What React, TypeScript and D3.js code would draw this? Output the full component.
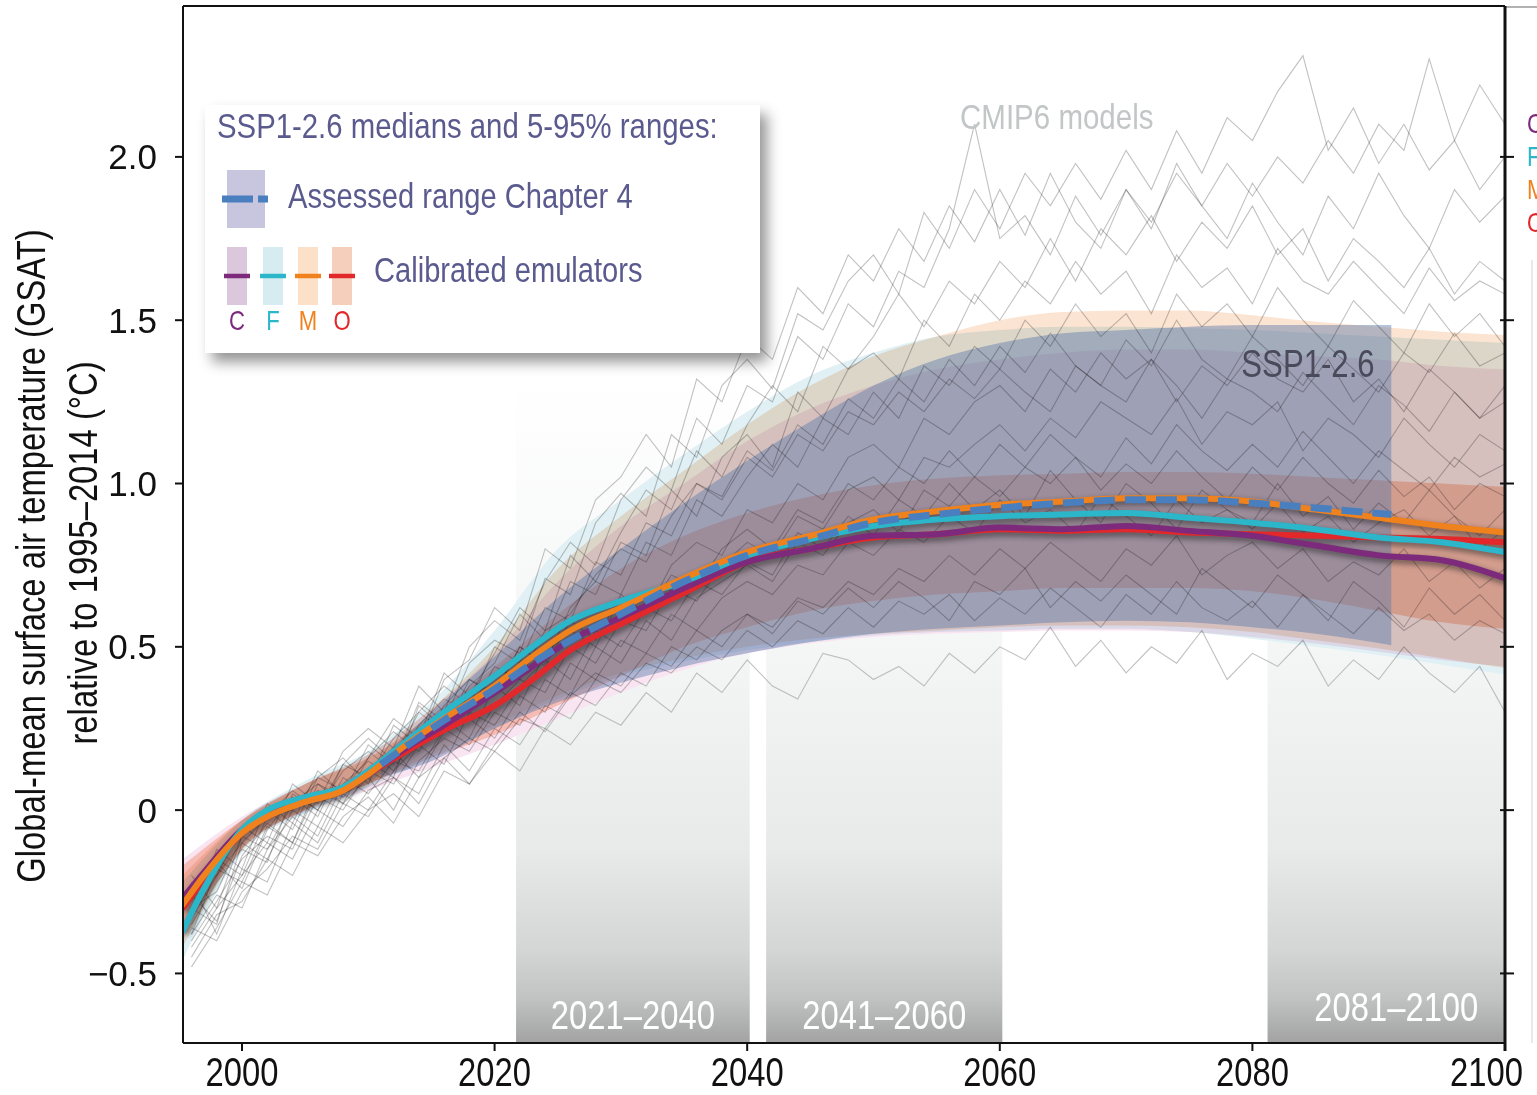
import React from 'react';
import * as d3 from 'd3';

// Canvas and plot frame
const W = 1537;
const H = 1095;
const plot = { left: 183, right: 1505, top: 6, bottom: 1043 };

const SANS = "'Liberation Sans', Arial, sans-serif";
const NARROW_SCALE = 0.82; // condensed look made from Liberation Sans

// Axes
const xTicks = [2000, 2020, 2040, 2060, 2080, 2100];
const yTicks = [-0.5, 0, 0.5, 1.0, 1.5, 2.0];
const yTickLabels = ['−0.5', '0', '0.5', '1.0', '1.5', '2.0'];

// Emulator medians (C, F, M, O)
const medianYears = [1995.3, 1997, 2000, 2002, 2005, 2008, 2010, 2013, 2016, 2020, 2023, 2026, 2030, 2035, 2040, 2045, 2050, 2055, 2060, 2065, 2070, 2075, 2080, 2085, 2090, 2095, 2100];
const medianC = [-0.27, -0.19, -0.06, -0.01, 0.03, 0.06, 0.11, 0.19, 0.26, 0.36, 0.44, 0.52, 0.59, 0.68, 0.76, 0.8, 0.84, 0.845, 0.865, 0.86, 0.87, 0.855, 0.84, 0.81, 0.78, 0.765, 0.71];
const medianF = [-0.37, -0.24, -0.06, 0.0, 0.04, 0.07, 0.12, 0.21, 0.3, 0.41, 0.5, 0.58, 0.64, 0.7, 0.78, 0.83, 0.87, 0.89, 0.9, 0.905, 0.91, 0.895, 0.88, 0.86, 0.835, 0.82, 0.79];
const medianM = [-0.29, -0.2, -0.07, -0.02, 0.025, 0.06, 0.11, 0.2, 0.28, 0.38, 0.47, 0.55, 0.62, 0.71, 0.79, 0.84, 0.89, 0.915, 0.935, 0.945, 0.955, 0.955, 0.945, 0.92, 0.895, 0.87, 0.85];
const medianO = [-0.3, -0.21, -0.07, -0.02, 0.03, 0.06, 0.11, 0.18, 0.245, 0.32, 0.4, 0.49, 0.57, 0.665, 0.76, 0.8, 0.835, 0.845, 0.86, 0.855, 0.86, 0.85, 0.845, 0.84, 0.835, 0.83, 0.82];

// Emulator 5-95% ranges
const bandYears = [1995.3, 2000, 2005, 2010, 2015, 2020, 2025, 2030, 2035, 2040, 2045, 2050, 2055, 2060, 2065, 2070, 2075, 2080, 2085, 2090, 2095, 2100];
const bandFHi = [-0.22, -0.03, 0.09, 0.18, 0.33, 0.55, 0.8, 0.95, 1.09, 1.22, 1.33, 1.4, 1.45, 1.47, 1.48, 1.48, 1.475, 1.47, 1.46, 1.45, 1.44, 1.43];
const bandFLo = [-0.46, -0.13, -0.01, 0.07, 0.16, 0.25, 0.34, 0.41, 0.455, 0.49, 0.515, 0.535, 0.545, 0.55, 0.555, 0.555, 0.545, 0.525, 0.5, 0.475, 0.445, 0.415];
const bandMHi = [-0.2, -0.03, 0.08, 0.17, 0.31, 0.5, 0.74, 0.9, 1.04, 1.18, 1.3, 1.39, 1.45, 1.5, 1.525, 1.53, 1.53, 1.515, 1.495, 1.48, 1.465, 1.455];
const bandMLo = [-0.42, -0.12, 0.0, 0.08, 0.17, 0.26, 0.35, 0.42, 0.465, 0.5, 0.525, 0.54, 0.55, 0.56, 0.565, 0.565, 0.56, 0.545, 0.52, 0.495, 0.465, 0.435];
const bandCHi = [-0.15, -0.02, 0.08, 0.17, 0.31, 0.48, 0.7, 0.87, 1.0, 1.13, 1.23, 1.3, 1.35, 1.38, 1.4, 1.41, 1.41, 1.4, 1.39, 1.38, 1.36, 1.35];
const bandCLo = [-0.4, -0.12, -0.005, 0.06, 0.13, 0.2, 0.28, 0.36, 0.43, 0.48, 0.51, 0.53, 0.54, 0.545, 0.55, 0.55, 0.545, 0.53, 0.51, 0.485, 0.46, 0.44];
const bandOHi = [-0.17, -0.03, 0.08, 0.16, 0.29, 0.44, 0.6, 0.74, 0.84, 0.91, 0.96, 0.995, 1.015, 1.025, 1.03, 1.035, 1.035, 1.03, 1.02, 1.01, 1.0, 0.99];
const bandOLo = [-0.38, -0.12, 0.0, 0.08, 0.16, 0.23, 0.32, 0.41, 0.5, 0.56, 0.61, 0.64, 0.66, 0.67, 0.68, 0.68, 0.68, 0.67, 0.645, 0.61, 0.575, 0.555];

// Assessed range Chapter 4
const assessedYears = [2011, 2015, 2020, 2025, 2030, 2035, 2040, 2045, 2050, 2055, 2060, 2065, 2070, 2075, 2080, 2085, 2091];
const assessedHi = [0.16, 0.3, 0.47, 0.65, 0.8, 0.94, 1.07, 1.19, 1.3, 1.38, 1.43, 1.46, 1.47, 1.48, 1.485, 1.485, 1.485];
const assessedLo = [0.1, 0.15, 0.25, 0.33, 0.39, 0.44, 0.48, 0.515, 0.54, 0.555, 0.565, 0.575, 0.58, 0.575, 0.56, 0.54, 0.505];
const assessedMedYears = [2011, 2013, 2016, 2020, 2023, 2026, 2030, 2035, 2040, 2045, 2050, 2055, 2060, 2065, 2070, 2075, 2080, 2085, 2091];
const assessedMedian = [0.14, 0.195, 0.275, 0.37, 0.45, 0.52, 0.6, 0.7, 0.78, 0.83, 0.88, 0.905, 0.925, 0.94, 0.95, 0.95, 0.94, 0.925, 0.905];

// CMIP6 models, every second year 1996-2100
const cmipYears = d3.range(1996, 2101, 2);
const cmip1 = [-0.32, -0.12, -0.18, 0.02, -0.04, 0.12, 0.05, 0.2, 0.14, 0.33, 0.27, 0.45, 0.52, 0.48, 0.71, 0.66, 0.88, 0.97, 0.9, 1.15, 1.08, 1.3, 1.38, 1.29, 1.52, 1.47, 1.62, 1.7, 1.58, 1.83, 1.72, 1.9, 1.78, 1.95, 1.85, 1.98, 1.87, 2.02, 1.9, 2.08, 1.95, 2.12, 2.05, 2.2, 2.31, 2.02, 2.15, 1.98, 2.1, 1.96, 2.05, 1.9, 2.0];
const cmip2 = [-0.25, -0.2, -0.05, -0.1, 0.08, 0.02, 0.18, 0.25, 0.19, 0.38, 0.3, 0.5, 0.58, 0.52, 0.7, 0.82, 0.75, 0.95, 1.05, 0.98, 1.2, 1.12, 1.3, 1.25, 1.45, 1.38, 1.55, 1.48, 1.65, 1.6, 1.78, 2.1, 1.75, 1.82, 1.7, 1.88, 1.76, 1.9, 1.8, 1.95, 1.85, 1.98, 1.88, 2.0, 1.92, 2.05, 1.95, 2.1, 2.02, 2.3, 2.05, 2.22, 2.1];
const cmip3 = [-0.28, -0.15, -0.2, -0.02, 0.0, 0.1, 0.06, 0.16, 0.28, 0.22, 0.42, 0.35, 0.48, 0.62, 0.55, 0.78, 0.7, 0.85, 0.98, 0.92, 1.1, 1.02, 1.18, 1.3, 1.22, 1.42, 1.35, 1.45, 1.58, 1.48, 1.62, 1.55, 1.68, 1.6, 1.75, 1.62, 1.78, 1.7, 1.82, 1.68, 1.8, 1.72, 1.85, 1.7, 1.78, 1.62, 1.75, 1.68, 1.6, 1.72, 1.58, 1.68, 1.62];
const cmip4 = [-0.35, -0.22, -0.12, -0.16, 0.05, 0.0, 0.14, 0.1, 0.22, 0.3, 0.24, 0.4, 0.35, 0.5, 0.45, 0.62, 0.7, 0.66, 0.82, 0.78, 0.95, 0.9, 1.02, 1.12, 1.05, 1.2, 1.15, 1.28, 1.2, 1.36, 1.3, 1.42, 1.35, 1.5, 1.42, 1.55, 1.45, 1.52, 1.4, 1.58, 1.48, 1.55, 1.45, 1.6, 1.5, 1.42, 1.56, 1.48, 1.4, 1.55, 1.45, 1.52, 1.42];
const cmip5 = [-0.4, -0.28, -0.15, -0.08, -0.12, 0.04, 0.0, 0.12, 0.08, 0.2, 0.28, 0.22, 0.38, 0.32, 0.48, 0.55, 0.5, 0.65, 0.6, 0.75, 0.82, 0.78, 0.92, 0.88, 1.0, 0.95, 1.08, 1.12, 1.05, 1.2, 1.15, 1.25, 1.3, 1.22, 1.35, 1.28, 1.4, 1.32, 1.38, 1.25, 1.36, 1.3, 1.4, 1.32, 1.28, 1.38, 1.25, 1.32, 1.22, 1.35, 1.28, 1.2, 1.3];
const cmip6 = [-0.3, -0.35, -0.1, -0.15, 0.0, -0.05, 0.1, 0.05, 0.15, 0.12, 0.25, 0.2, 0.32, 0.4, 0.36, 0.5, 0.45, 0.58, 0.55, 0.68, 0.64, 0.75, 0.82, 0.78, 0.9, 0.86, 0.98, 1.02, 0.95, 1.08, 1.05, 1.12, 1.18, 1.1, 1.2, 1.14, 1.25, 1.2, 1.15, 1.26, 1.12, 1.22, 1.18, 1.25, 1.1, 1.2, 1.15, 1.08, 1.2, 1.12, 1.05, 1.15, 1.1];
const cmip7 = [-0.38, -0.18, -0.22, -0.05, -0.1, 0.06, 0.02, 0.1, 0.0, 0.15, 0.22, 0.18, 0.3, 0.26, 0.4, 0.35, 0.5, 0.45, 0.58, 0.52, 0.65, 0.7, 0.75, 0.7, 0.82, 0.78, 0.88, 0.92, 0.85, 0.98, 0.93, 1.02, 0.96, 1.05, 1.0, 1.08, 0.98, 1.06, 1.0, 1.1, 1.02, 0.95, 1.05, 0.98, 1.08, 1.0, 0.94, 1.04, 0.96, 1.02, 0.92, 1.0, 0.96];
const cmip8 = [-0.3, -0.25, -0.08, -0.12, 0.02, 0.08, 0.04, 0.12, 0.18, 0.1, 0.24, 0.28, 0.22, 0.35, 0.3, 0.45, 0.4, 0.52, 0.48, 0.6, 0.55, 0.65, 0.7, 0.66, 0.75, 0.72, 0.82, 0.78, 0.86, 0.82, 0.9, 0.85, 0.95, 0.88, 0.92, 0.85, 0.96, 0.9, 0.84, 0.95, 0.88, 0.92, 0.86, 0.94, 0.85, 0.9, 0.82, 0.88, 0.92, 0.84, 0.9, 0.8, 0.86];
const cmip9 = [-0.42, -0.3, -0.2, -0.1, -0.15, 0.0, -0.05, 0.06, 0.1, 0.02, 0.16, 0.22, 0.18, 0.28, 0.25, 0.36, 0.32, 0.42, 0.38, 0.5, 0.46, 0.55, 0.6, 0.56, 0.65, 0.62, 0.7, 0.66, 0.74, 0.7, 0.78, 0.72, 0.8, 0.74, 0.82, 0.76, 0.7, 0.8, 0.75, 0.84, 0.72, 0.78, 0.82, 0.74, 0.8, 0.7, 0.76, 0.72, 0.8, 0.7, 0.76, 0.68, 0.74];
const cmip10 = [-0.36, -0.4, -0.25, -0.18, -0.08, -0.12, 0.02, -0.02, 0.1, 0.05, 0.2, 0.12, 0.25, 0.2, 0.32, 0.28, 0.4, 0.36, 0.45, 0.42, 0.5, 0.46, 0.55, 0.5, 0.58, 0.54, 0.62, 0.56, 0.64, 0.6, 0.66, 0.58, 0.65, 0.6, 0.68, 0.62, 0.56, 0.66, 0.6, 0.7, 0.62, 0.58, 0.64, 0.56, 0.66, 0.6, 0.54, 0.62, 0.55, 0.6, 0.52, 0.58, 0.54];
const cmip11 = [-0.45, -0.32, -0.28, -0.15, -0.2, -0.05, -0.1, 0.0, 0.05, -0.02, 0.12, 0.08, 0.18, 0.12, 0.25, 0.2, 0.3, 0.26, 0.36, 0.3, 0.42, 0.36, 0.46, 0.38, 0.34, 0.48, 0.46, 0.4, 0.44, 0.38, 0.48, 0.42, 0.5, 0.46, 0.56, 0.44, 0.52, 0.42, 0.5, 0.45, 0.55, 0.4, 0.48, 0.44, 0.52, 0.38, 0.46, 0.4, 0.5, 0.42, 0.36, 0.44, 0.3];
const cmip12 = [-0.33, -0.2, -0.1, -0.02, 0.06, 0.0, 0.12, 0.18, 0.12, 0.26, 0.34, 0.3, 0.44, 0.4, 0.55, 0.6, 0.72, 0.8, 0.76, 0.9, 1.0, 0.95, 1.08, 1.02, 1.15, 1.1, 1.22, 1.18, 1.28, 1.22, 1.32, 1.26, 1.35, 1.28, 1.22, 1.36, 1.3, 1.25, 1.38, 1.3, 1.2, 1.32, 1.28, 1.22, 1.34, 1.26, 1.18, 1.3, 1.24, 1.16, 1.28, 1.2, 1.25];
const cmip13 = [-0.2, -0.3, -0.08, 0.0, -0.06, 0.1, 0.16, 0.08, 0.26, 0.2, 0.4, 0.46, 0.62, 0.55, 0.8, 0.74, 0.95, 1.02, 1.15, 1.05, 1.32, 1.25, 1.45, 1.38, 1.6, 1.52, 1.7, 1.62, 1.78, 1.68, 1.85, 1.74, 1.9, 1.76, 1.95, 1.8, 1.72, 1.9, 1.78, 1.98, 1.85, 1.75, 1.92, 1.8, 1.7, 1.88, 1.78, 1.95, 1.82, 1.72, 1.9, 1.8, 1.88];
const cmip14 = [-0.38, -0.26, -0.3, -0.12, -0.02, -0.08, 0.08, 0.15, 0.1, 0.32, 0.25, 0.38, 0.45, 0.6, 0.52, 0.7, 0.66, 0.82, 0.78, 0.98, 0.9, 1.08, 1.15, 1.05, 1.28, 1.2, 1.35, 1.4, 1.32, 1.5, 1.42, 1.58, 1.5, 1.62, 1.55, 1.68, 1.58, 1.65, 1.52, 1.7, 1.6, 1.66, 1.55, 1.72, 1.62, 1.58, 1.68, 1.6, 1.52, 1.66, 1.56, 1.62, 1.58];
const cmip15 = [-0.22, -0.38, -0.18, -0.22, -0.04, -0.1, 0.05, 0.0, 0.12, 0.2, 0.14, 0.3, 0.26, 0.38, 0.46, 0.4, 0.55, 0.5, 0.62, 0.58, 0.7, 0.66, 0.76, 0.72, 0.85, 0.8, 0.9, 0.84, 0.95, 0.9, 1.0, 0.92, 0.98, 0.9, 1.04, 0.95, 0.88, 1.0, 0.94, 0.86, 0.98, 0.92, 0.88, 1.0, 0.9, 0.96, 0.86, 0.94, 0.88, 0.98, 0.9, 0.84, 0.92];
const cmip16 = [-0.48, -0.36, -0.22, -0.26, -0.1, -0.14, -0.02, 0.04, -0.04, 0.1, 0.16, 0.08, 0.2, 0.3, 0.24, 0.35, 0.42, 0.38, 0.48, 0.44, 0.55, 0.5, 0.6, 0.54, 0.64, 0.6, 0.68, 0.62, 0.7, 0.65, 0.58, 0.7, 0.66, 0.74, 0.62, 0.7, 0.64, 0.72, 0.66, 0.6, 0.74, 0.68, 0.62, 0.72, 0.66, 0.58, 0.7, 0.64, 0.56, 0.68, 0.6, 0.66, 0.58];
const cmip17 = [-0.3, -0.16, -0.24, -0.06, 0.04, -0.02, 0.14, 0.22, 0.15, 0.3, 0.38, 0.32, 0.5, 0.45, 0.62, 0.58, 0.76, 0.72, 0.88, 0.84, 1.0, 0.96, 1.1, 1.04, 1.18, 1.12, 1.26, 1.2, 1.32, 1.25, 1.38, 1.3, 1.42, 1.34, 1.46, 1.36, 1.3, 1.44, 1.36, 1.5, 1.38, 1.32, 1.45, 1.38, 1.3, 1.42, 1.35, 1.28, 1.4, 1.34, 1.46, 1.36, 1.4];
const cmip18 = [-0.26, -0.34, -0.14, -0.04, -0.1, 0.08, 0.02, 0.16, 0.24, 0.18, 0.32, 0.4, 0.36, 0.5, 0.44, 0.58, 0.52, 0.66, 0.6, 0.72, 0.68, 0.8, 0.86, 0.8, 0.92, 0.88, 1.0, 0.95, 1.05, 1.0, 1.1, 1.02, 1.12, 1.05, 1.15, 1.08, 1.02, 1.14, 1.06, 1.18, 1.1, 1.04, 1.12, 1.05, 1.16, 1.08, 1.0, 1.1, 1.04, 0.98, 1.08, 1.02, 1.06];
const cmipModels = [cmip1, cmip2, cmip3, cmip4, cmip5, cmip6, cmip7, cmip8, cmip9, cmip10, cmip11, cmip12, cmip13, cmip14, cmip15, cmip16, cmip17, cmip18];

// Assessment periods
const periods = [
  { label: '2021–2040', start: 2021.7, end: 2040.2 },
  { label: '2041–2060', start: 2041.5, end: 2060.2 },
  { label: '2081–2100', start: 2081.2, end: 2100 },
];
// label placement tweaks (px): horizontal shift and baseline
const periodLabelDx = [0, 0, 10];
const periodLabelBase = [1029, 1029, 1021];

const emulators = [
  { key: 'C', line: '#7d2a7c', band: '#f9e5f2', swatch: '#dcc8dc', median: medianC, lo: bandCLo, hi: bandCHi },
  { key: 'F', line: '#2bb7c9', band: '#e0f0f4', swatch: '#d6ecf0', median: medianF, lo: bandFLo, hi: bandFHi },
  { key: 'M', line: '#f0821e', band: '#fbe4d2', swatch: '#fce0c8', median: medianM, lo: bandMLo, hi: bandMHi },
  { key: 'O', line: '#e2282b', band: '#fcd1bf', swatch: '#f5cfbc', median: medianO, lo: bandOLo, hi: bandOHi },
];
const lineOrder = ['O', 'C', 'F', 'M'];

const x = d3.scaleLinear().domain([1995.33, 2100]).range([plot.left, plot.right]);
const y = d3.scaleLinear().domain([-0.713, 2.462]).range([plot.bottom, plot.top]);

const smoothLine = d3.line<[number, number]>().x(d => x(d[0])).y(d => y(d[1])).curve(d3.curveMonotoneX);
const rawLine = d3.line<[number, number]>().x(d => x(d[0])).y(d => y(d[1]));
const bandArea = d3.area<[number, number, number]>()
  .x(d => x(d[0])).y0(d => y(d[1])).y1(d => y(d[2])).curve(d3.curveMonotoneX);

const zip = (xs: number[], ys: number[]) => xs.map((v, i) => [v, ys[i]] as [number, number]);
const zip3 = (xs: number[], lo: number[], hi: number[]) => xs.map((v, i) => [v, lo[i], hi[i]] as [number, number, number]);

// condensed text: Liberation Sans squeezed horizontally
const NText = ({ x: tx, y: ty, size, fill, anchor = 'start', rotate = 0, children }:
  { x: number; y: number; size: number; fill: string; anchor?: string; rotate?: number; children: React.ReactNode }) => (
  <text transform={`translate(${tx},${ty}) rotate(${rotate}) scale(${NARROW_SCALE},1)`} textAnchor={anchor}
    fontFamily={SANS} fontSize={size} fill={fill}>{children}</text>
);

export default function App() {
  const legendText = '#5a5a8e';
  const swatchX = [227, 263, 298, 332];

  return (
    <div style={{ position: 'absolute', left: 0, top: 0 }}>
      <svg width={W} height={H} viewBox={`0 0 ${W} ${H}`} style={{ display: 'block' }}>
        <defs>
          <linearGradient id="boxGrad" gradientUnits="userSpaceOnUse" x1="0" y1="380" x2="0" y2={plot.bottom}>
            <stop offset="0" stopColor="#ffffff" />
            <stop offset="0.39" stopColor="#f5f6f6" />
            <stop offset="0.71" stopColor="#e8eaea" />
            <stop offset="0.86" stopColor="#d4d6d6" />
            <stop offset="0.93" stopColor="#c2c4c4" />
            <stop offset="1" stopColor="#a2a2a2" />
          </linearGradient>
          <clipPath id="plotClip">
            <rect x={plot.left} y={plot.top} width={plot.right - plot.left} height={plot.bottom - plot.top} />
          </clipPath>
          <filter id="lineShadow" x="-5%" y="-10%" width="110%" height="120%">
            <feGaussianBlur stdDeviation="2.5" />
          </filter>
          <filter id="legendShadow" x="-10%" y="-10%" width="130%" height="140%">
            <feDropShadow dx="7" dy="9" stdDeviation="7" floodColor="#000" floodOpacity="0.42" />
          </filter>
        </defs>

        <rect x={0} y={0} width={W} height={H} fill="#ffffff" />

        {/* assessment period boxes */}
        {periods.map(p => (
          <rect key={p.label} x={x(p.start)} y={plot.top} width={x(p.end) - x(p.start)}
            height={plot.bottom - plot.top} fill="url(#boxGrad)" />
        ))}

        <g clipPath="url(#plotClip)">
          {/* emulator ranges */}
          {emulators.map(e => (
            <path key={e.key} d={bandArea(zip3(bandYears, e.lo, e.hi)) || ''} fill={e.band}
              style={{ mixBlendMode: 'multiply' }} />
          ))}
          {/* assessed range */}
          <path d={bandArea(zip3(assessedYears, assessedLo, assessedHi)) || ''} fill="#5a7aab" fillOpacity={0.45} />

          {/* CMIP6 models */}
          {cmipModels.map((m, i) => (
            <path key={i} d={rawLine(zip(cmipYears, m)) || ''} fill="none" stroke="#a6a6a6"
              strokeWidth={1.1} strokeOpacity={0.7} style={{ mixBlendMode: 'multiply' }} />
          ))}

          {/* shadows under medians */}
          <g filter="url(#lineShadow)" transform="translate(2,3)" opacity={0.45}>
            {emulators.map(e => (
              <path key={e.key} d={smoothLine(zip(medianYears, e.median)) || ''} fill="none" stroke="#222" strokeWidth={9} />
            ))}
          </g>

          {lineOrder.map(k => {
            const e = emulators.find(v => v.key === k)!;
            return (
              <path key={k} d={smoothLine(zip(medianYears, e.median)) || ''} fill="none" stroke={e.line}
                strokeWidth={6} strokeLinecap="round" />
            );
          })}
          <path d={smoothLine(zip(assessedMedYears, assessedMedian)) || ''} fill="none" stroke="#4a7fbf"
            strokeWidth={7} strokeDasharray="21 10" />
        </g>

        {/* period labels */}
        {periods.map((p, i) => (
          <NText key={p.label} x={(x(p.start) + x(p.end)) / 2 + periodLabelDx[i]} y={periodLabelBase[i]}
            anchor="middle" size={40} fill="#ffffff">{p.label}</NText>
        ))}

        {/* frame */}
        <line x1={plot.left} x2={plot.right} y1={plot.top} y2={plot.top} stroke="#111" strokeWidth={2} />
        <line x1={plot.right} x2={W} y1={plot.top + 1} y2={plot.top + 1} stroke="#999" strokeWidth={1.5} />
        <line x1={plot.left} x2={plot.left} y1={plot.top} y2={plot.bottom} stroke="#111" strokeWidth={2} />
        <line x1={plot.right} x2={plot.right} y1={plot.top} y2={plot.bottom + 8} stroke="#111" strokeWidth={3} />
        <line x1={plot.left} x2={plot.right} y1={plot.bottom} y2={plot.bottom} stroke="#111" strokeWidth={2} />
        <line x1={1532} x2={1532} y1={260} y2={plot.bottom} stroke="#e2e2e2" strokeWidth={1.5} />

        {/* y axis */}
        {yTicks.map((t, i) => (
          <g key={t}>
            <line x1={plot.left - 8} x2={plot.left} y1={y(t)} y2={y(t)} stroke="#111" strokeWidth={2} />
            <line x1={plot.right - 5} x2={plot.right + 9} y1={y(t)} y2={y(t)} stroke="#111" strokeWidth={2} />
            <text x={157} y={y(t) + 12.5} textAnchor="end" fontFamily={SANS} fontSize={35} fill="#111">{yTickLabels[i]}</text>
          </g>
        ))}

        {/* x axis */}
        {xTicks.map((t, i) => {
          const last = i === xTicks.length - 1;
          return (
            <g key={t}>
              <line x1={x(t)} x2={x(t)} y1={plot.bottom} y2={plot.bottom + 8} stroke="#111" strokeWidth={2} />
              <NText x={last ? W - 14 : x(t)} y={1086} anchor={last ? 'end' : 'middle'} size={40} fill="#111">{t}</NText>
            </g>
          );
        })}

        {/* y axis title */}
        <NText x={45} y={556} rotate={-90} anchor="middle" size={40} fill="#111">Global-mean surface air temperature (GSAT)</NText>
        <NText x={97} y={553} rotate={-90} anchor="middle" size={40} fill="#111">relative to 1995–2014 (°C)</NText>

        {/* annotations */}
        <NText x={960} y={129} size={36} fill="#c2c6c6">CMIP6 models</NText>
        <NText x={1308} y={377} anchor="middle" size={38} fill="#4a4a5a">SSP1-2.6</NText>

        {/* legend */}
        <g>
          <rect x={205} y={105} width={555} height={248} fill="#ffffff" filter="url(#legendShadow)" />
          <NText x={217} y={138} size={35.8} fill={legendText}>SSP1-2.6 medians and 5-95% ranges:</NText>
          <rect x={227} y={170} width={38} height={58} fill="#c8c5df" />
          <line x1={222} x2={268} y1={199} y2={199} stroke="#4a7fbf" strokeWidth={7} strokeDasharray="31 5" />
          <NText x={288} y={208} size={35.5} fill={legendText}>Assessed range Chapter 4</NText>
          {emulators.map((e, i) => (
            <g key={e.key}>
              <rect x={swatchX[i]} y={247} width={20} height={58} fill={e.swatch} />
              <line x1={swatchX[i] - 3} x2={swatchX[i] + 23} y1={276} y2={276} stroke={e.line} strokeWidth={4.5} />
              <NText x={swatchX[i] + 10} y={330} anchor="middle" size={27} fill={e.line}>{e.key}</NText>
            </g>
          ))}
          <NText x={374} y={282} size={35.5} fill={legendText}>Calibrated emulators</NText>
        </g>

        {/* neighbouring panel, cut at the edge */}
        {emulators.map((e, i) => (
          <NText key={e.key} x={1527} y={133 + i * 33} size={27} fill={e.line}>{e.key}</NText>
        ))}
      </svg>
    </div>
  );
}
